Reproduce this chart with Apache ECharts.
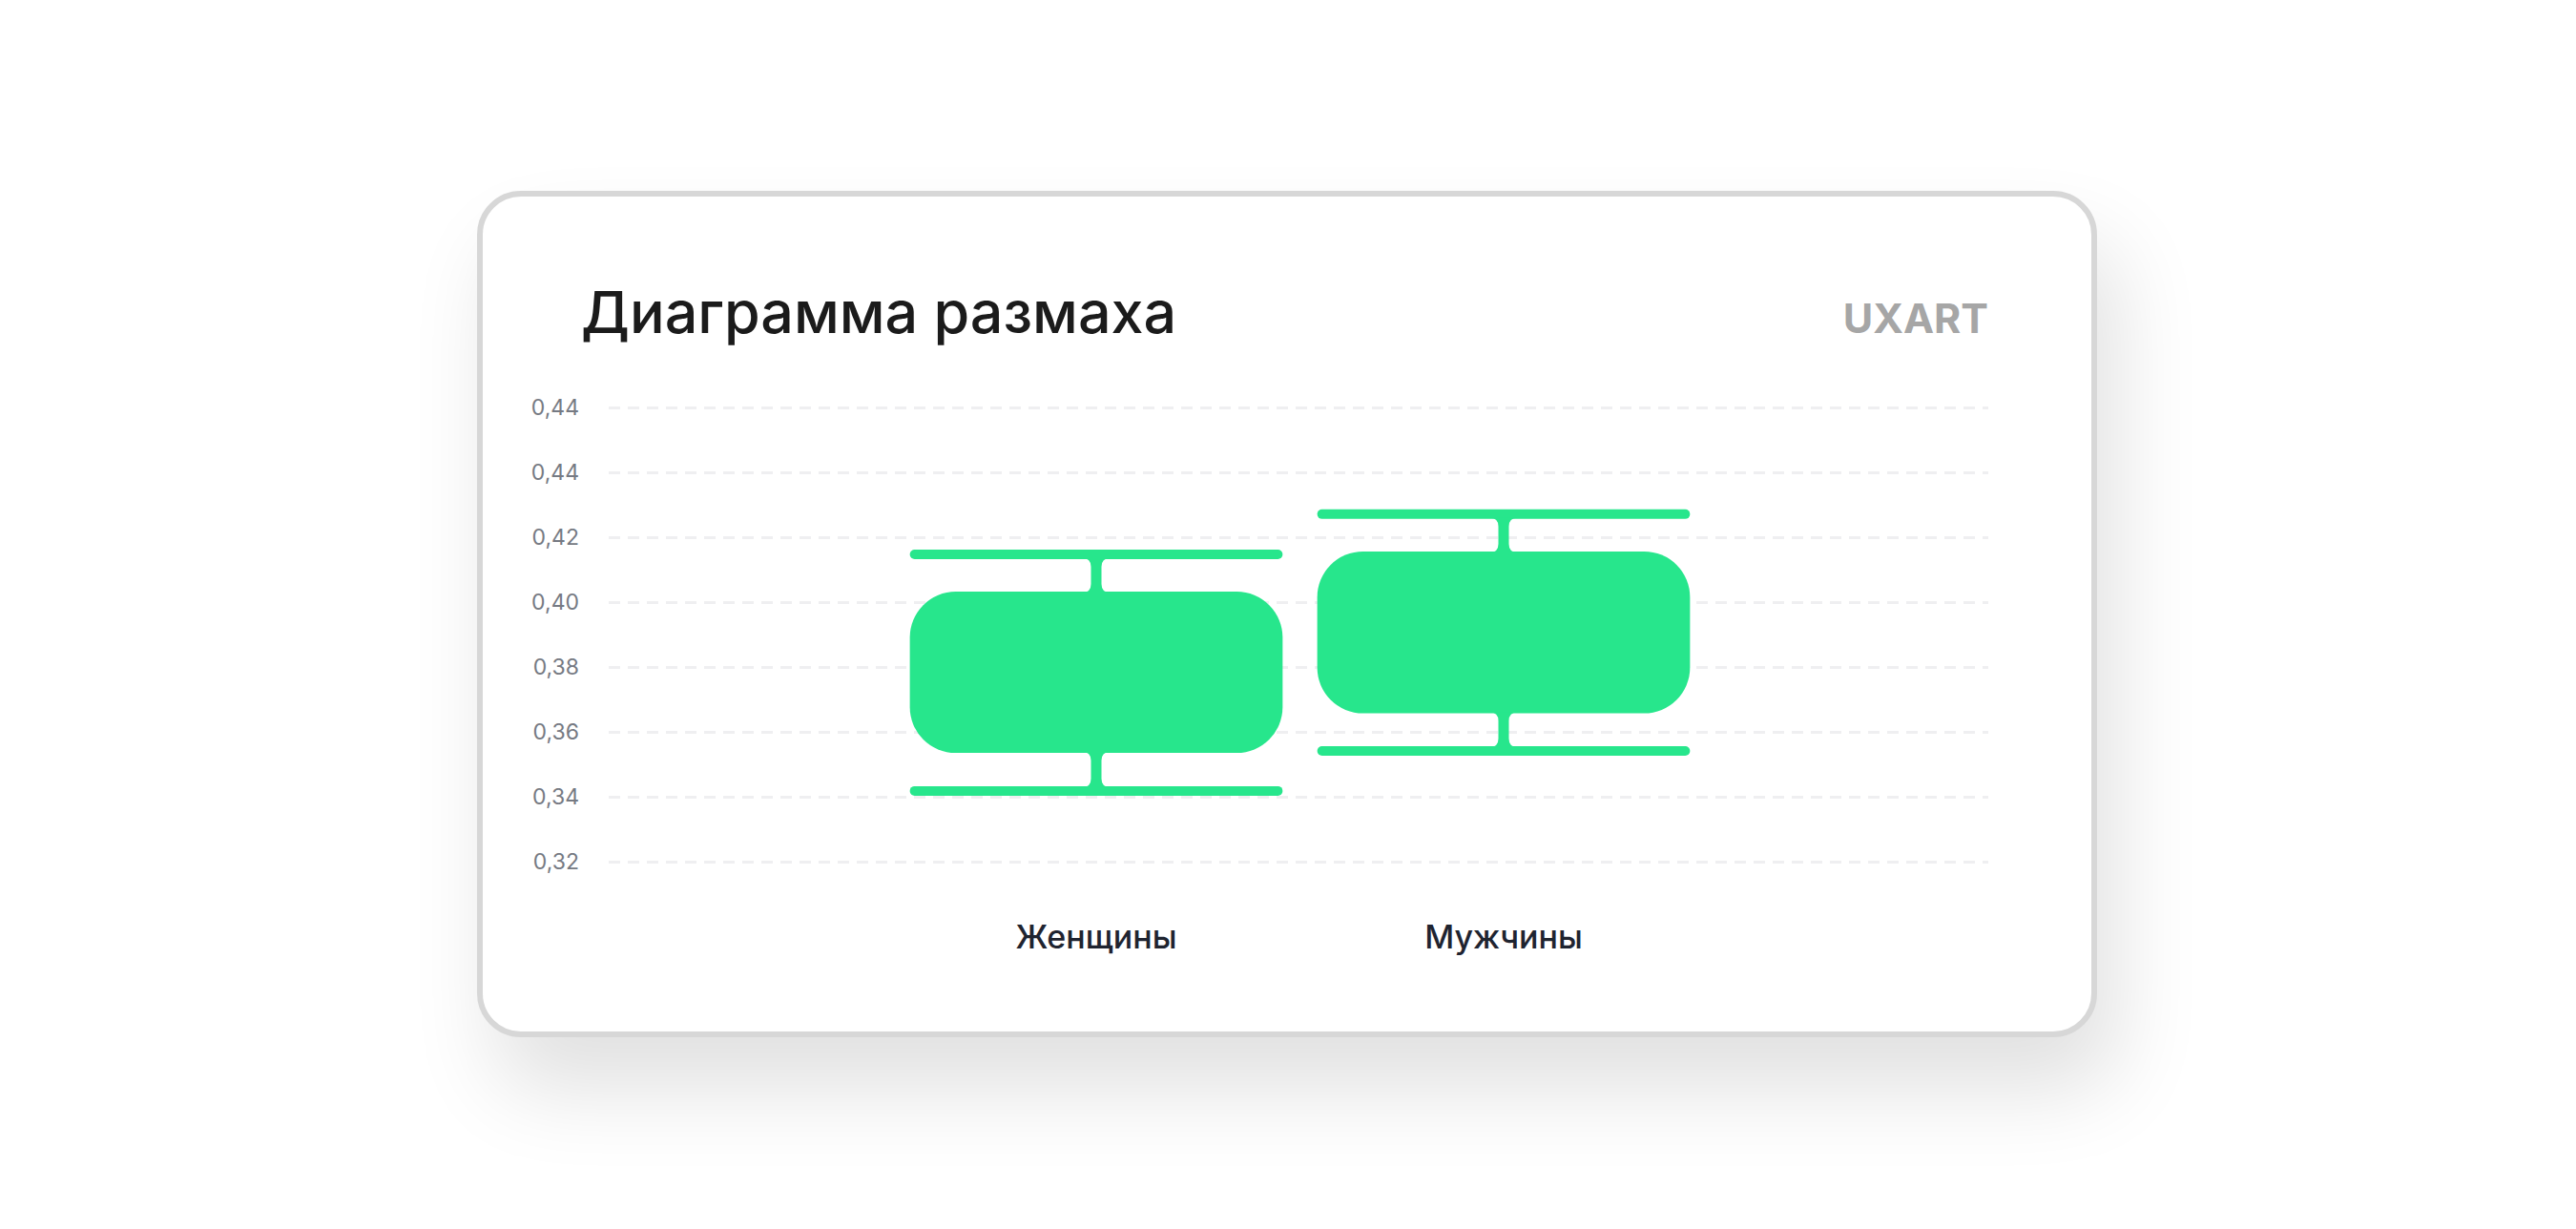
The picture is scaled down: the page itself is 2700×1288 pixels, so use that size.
<!DOCTYPE html>
<html>
<head>
<meta charset="utf-8">
<title>Диаграмма размаха</title>
<script src="https://cdn.jsdelivr.net/npm/echarts@6/dist/echarts.min.js"></script>
<style>
    html, body { margin: 0; padding: 0; background: #ffffff; }
    body { width: 2700px; height: 1288px; position: relative; overflow: hidden; }
    .card {
        position: absolute;
        left: 500px;
        top: 200px;
        width: 1698px;
        height: 887px;
        box-sizing: border-box;
        border: 6px solid #d7d7d7;
        border-radius: 46px;
        background: #ffffff;
        box-shadow: 20px 55px 90px rgba(0, 0, 0, 0.12);
    }
    #main { position: absolute; left: 0; top: 0; width: 2700px; height: 1288px; z-index: 1; }
</style>
</head>
<body>
<div class="card"></div>
<div id="main"></div>
<script>
'use strict';

// категории и значения: минимум, нижний квартиль, верхний квартиль, максимум
var categories = ['Женщины', 'Мужчины'];
var whiskerMin = [0.3418, 0.3541];
var boxLow = [0.3535, 0.3657];
var boxHigh = [0.4032, 0.4156];
var whiskerMax = [0.4147, 0.4271];
// подписи оси Y снизу вверх (как на исходной картинке)
var yTickLabels = ['0,32', '0,34', '0,36', '0,38', '0,40', '0,42', '0,44', '0,44'];

var GREEN = '#27e68c';

var chart = echarts.init(document.getElementById('main'), null, { renderer: 'svg' });

var boxData = categories.map(function (name, i) {
    return [i, whiskerMin[i], boxLow[i], boxHigh[i], whiskerMax[i]];
});

/**
 * Стойка уса с плавными скруглениями у обоих концов
 */
function stemPath(cx, y1, y2) {
    var s = 5.5;
    var f = 9;
    return [
        'M', cx - s - f, y1,
        'L', cx + s + f, y1,
        'Q', cx + s, y1, cx + s, y1 + f,
        'L', cx + s, y2 - f,
        'Q', cx + s, y2, cx + s + f, y2,
        'L', cx - s - f, y2,
        'Q', cx - s, y2, cx - s, y2 - f,
        'L', cx - s, y1 + f,
        'Q', cx - s, y1, cx - s - f, y1,
        'Z'
    ].join(' ');
}

function renderBox(params, api) {
    var x = api.value(0);
    var pMin = api.coord([x, api.value(1)]);
    var pLow = api.coord([x, api.value(2)]);
    var pHigh = api.coord([x, api.value(3)]);
    var pMax = api.coord([x, api.value(4)]);
    var w = api.size([1, 0])[0] * 0.915;
    var cx = pMax[0];
    var left = cx - w / 2;
    var capH = 10;
    var style = { fill: GREEN };
    return {
        type: 'group',
        children: [
            {
                type: 'rect',
                shape: { x: left, y: pHigh[1], width: w, height: pLow[1] - pHigh[1], r: 48 },
                style: style
            },
            {
                type: 'rect',
                shape: { x: left, y: pMax[1] - capH / 2, width: w, height: capH, r: capH / 2 },
                style: style
            },
            {
                type: 'rect',
                shape: { x: left, y: pMin[1] - capH / 2, width: w, height: capH, r: capH / 2 },
                style: style
            },
            {
                type: 'path',
                shape: { pathData: stemPath(cx, pMax[1] + capH / 2 - 1, pHigh[1] + 1) },
                style: style
            },
            {
                type: 'path',
                shape: { pathData: stemPath(cx, pLow[1] - 1, pMin[1] - capH / 2 + 1) },
                style: style
            }
        ]
    };
}

var option = {
    animation: false,
    title: [{
        text: 'Диаграмма размаха',
        left: 604,
        top: 291,
        textStyle: {
            fontFamily: 'Inter',
            fontSize: 61,
            fontWeight: 500,
            color: '#1b1b1b'
        }
    }, {
        text: 'UXART',
        right: 611,
        top: 306,
        textStyle: {
            fontFamily: 'Inter',
            fontSize: 43,
            fontWeight: 700,
            color: '#a6a6a6'
        }
    }],
    grid: [
        // сетка на всю ширину карточки
        { left: 638, right: 616, top: 427, bottom: 385 },
        // сетка для коробок
        { left: 935.5, right: 910.5, top: 427, bottom: 385 }
    ],
    xAxis: [{
        gridIndex: 0,
        type: 'value',
        show: false
    }, {
        gridIndex: 1,
        type: 'category',
        data: categories,
        axisLine: { show: false },
        axisTick: { show: false },
        axisLabel: {
            margin: 61,
            fontFamily: 'Inter',
            fontSize: 34,
            fontWeight: 500,
            color: '#1f2430'
        }
    }],
    yAxis: [{
        gridIndex: 0,
        type: 'value',
        min: 0.32,
        max: 0.46,
        interval: 0.02,
        axisLine: { show: false },
        axisTick: { show: false },
        axisLabel: {
            margin: 31,
            fontFamily: 'Inter',
            fontSize: 23,
            color: '#767a83',
            formatter: function (value) {
                var idx = Math.round((value - 0.32) / 0.02);
                return yTickLabels[idx] || '';
            }
        },
        splitLine: {
            lineStyle: {
                color: '#efeff1',
                width: 3,
                type: [12, 8]
            }
        }
    }, {
        gridIndex: 1,
        type: 'value',
        min: 0.32,
        max: 0.46,
        interval: 0.02,
        show: false,
        splitLine: { show: false }
    }],
    series: [{
        type: 'custom',
        xAxisIndex: 1,
        yAxisIndex: 1,
        renderItem: renderBox,
        encode: { x: 0, y: [1, 2, 3, 4] },
        data: boxData
    }]
};

chart.setOption(option);
</script>
</body>
</html>
